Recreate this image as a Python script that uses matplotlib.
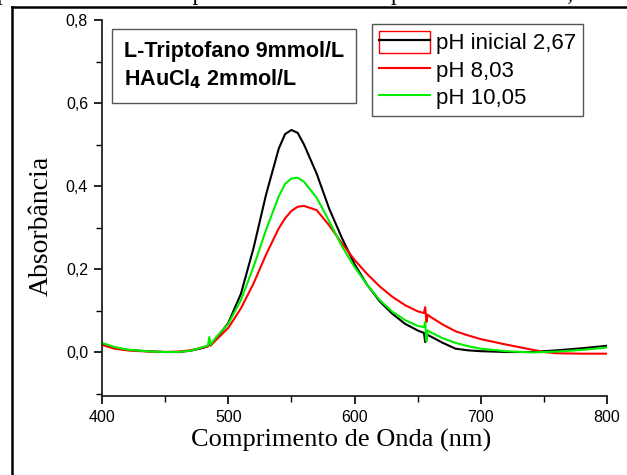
import matplotlib
matplotlib.use("Agg")
import matplotlib.pyplot as plt
from matplotlib.lines import Line2D
from matplotlib.patches import Rectangle
from matplotlib.ticker import MultipleLocator, FuncFormatter

wavelength = [400, 410, 420, 430, 440, 450, 460, 470, 480, 484, 485, 486, 490, 500, 510, 520, 530, 540,
              545, 550, 555, 560, 570, 580, 590, 600, 610, 620, 630, 640, 650, 655, 656, 657, 658, 660,
              670, 680, 690, 700, 720, 740, 750, 760, 780, 800]
ph_267 = [0.020, 0.010, 0.005, 0.003, 0.001, 0.000, 0.000, 0.003, 0.010, 0.014, 0.022, 0.016, 0.030, 0.070,
          0.140, 0.250, 0.380, 0.490, 0.525, 0.535, 0.528, 0.500, 0.430, 0.345, 0.275, 0.212, 0.162, 0.122,
          0.092, 0.068, 0.052, 0.046, 0.024, 0.044, 0.041, 0.038, 0.022, 0.008, 0.004, 0.002, 0.000,
          0.000, 0.002, 0.004, 0.009, 0.015]
ph_803 = [0.017, 0.008, 0.004, 0.002, 0.001, 0.000, 0.001, 0.004, 0.011, 0.014, 0.024, 0.016, 0.028, 0.058,
          0.105, 0.165, 0.235, 0.298, 0.322, 0.340, 0.350, 0.352, 0.342, 0.305, 0.262, 0.222, 0.188, 0.158,
          0.133, 0.113, 0.098, 0.094, 0.108, 0.072, 0.090, 0.085, 0.066, 0.050, 0.040, 0.031, 0.018,
          0.006, 0.000, -0.003, -0.004, -0.004]
ph_1005 = [0.022, 0.012, 0.006, 0.003, 0.001, 0.000, 0.000, 0.003, 0.012, 0.016, 0.036, 0.018, 0.034, 0.068,
           0.125, 0.205, 0.295, 0.375, 0.405, 0.418, 0.420, 0.410, 0.372, 0.315, 0.255, 0.205, 0.162, 0.125,
           0.097, 0.077, 0.063, 0.060, 0.072, 0.026, 0.052, 0.048, 0.033, 0.022, 0.014, 0.008, 0.002,
           -0.001, 0.000, 0.001, 0.005, 0.011]

labels = ["pH inicial 2,67", "pH 8,03", "pH 10,05"]
colors = ["#000000", "#ff0000", "#00ee00"]
annot_line1 = "L-Triptofano 9mmol/L"
annot_line2 = r"HAuCl$_{\mathbf{4}}$ 2mmol/L"

fig = plt.figure(figsize=(6.27, 4.75), dpi=100)
ax = fig.add_axes([102/627, 1-396/475, (607-102)/627, (396-20)/475])

for ys, c in zip([ph_267, ph_803, ph_1005], colors):
    ax.plot(wavelength, ys, color=c, lw=1.5)

ax.set_xlim(400, 800)
ax.set_ylim(-0.106, 0.8)
for s in ["top", "right"]:
    ax.spines[s].set_visible(False)
for s in ["left", "bottom"]:
    ax.spines[s].set_linewidth(1.3)
    ax.spines[s].set_color("#222222")
ax.xaxis.set_major_locator(MultipleLocator(100))
ax.xaxis.set_minor_locator(MultipleLocator(50))
ax.yaxis.set_major_locator(MultipleLocator(0.2))
ax.yaxis.set_minor_locator(MultipleLocator(0.1))
ax.yaxis.set_major_formatter(FuncFormatter(lambda v, p: f"{v:.1f}".replace(".", ",")))
ax.tick_params(which="major", direction="out", length=6, width=1.2, labelsize=11.5,
               pad=4)
ax.tick_params(which="minor", direction="out", length=4, width=1.0)
for lab in ax.get_xticklabels() + ax.get_yticklabels():
    lab.set_family("Liberation Sans")

ax.set_xlabel("Comprimento de Onda (nm)", family="Liberation Serif", fontsize=19)
ax.xaxis.set_label_coords(0.473, -0.087)
ax.set_ylabel("Absorbância", family="Liberation Serif", fontsize=20)
ax.yaxis.set_label_coords(-0.095, 0.452)

# annotation box
ax.text(0.043, 0.945, annot_line1 + "\n" + annot_line2, transform=ax.transAxes,
        ha="left", va="top", family="Liberation Sans", fontweight="bold", fontsize=15.5,
        linespacing=1.3,
        bbox=dict(boxstyle="square,pad=0.55", facecolor="white", edgecolor="#555555", lw=1.0))

# legend
h1 = (Rectangle((0, 0), 1, 1, facecolor="none", edgecolor="red", lw=1.0),
      Line2D([], [], color="black", lw=1.6))
h2 = Line2D([], [], color="red", lw=1.5)
h3 = Line2D([], [], color="#00ee00", lw=1.5)
leg = ax.legend([h1, h2, h3], labels, loc="upper left",
                bbox_to_anchor=((372-102)/505, (396-24)/376),
                fancybox=False, framealpha=1, edgecolor="#555555",
                prop={"family": "Liberation Sans", "size": 16}, handlelength=2.3,
                handleheight=1.15, handletextpad=0.3, labelspacing=0.18, borderpad=0.3,
                borderaxespad=0)
leg.get_frame().set_linewidth(1.0)

# outer page frame and clipped caption text
fig.add_artist(Line2D([12/627, 12/627], [0, 1-7/475], transform=fig.transFigure, color="black", lw=1.8))
fig.add_artist(Line2D([12/627, 1], [1-7/475, 1-7/475], transform=fig.transFigure, color="black", lw=1.8))
fig.text(-0.005, 1.012, "pectro UV-vis das espécies controle L-Triptofano/HAuCl4 4,57",
         family="Liberation Serif", fontsize=17, ha="left", va="center")

fig.savefig("out.png", dpi=100)
